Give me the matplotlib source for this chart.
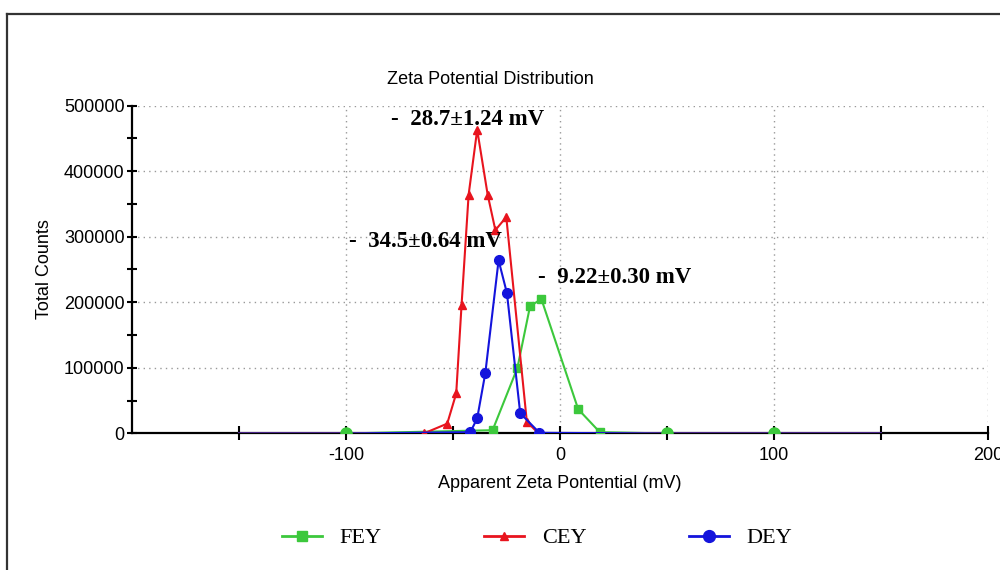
import matplotlib
matplotlib.use("Agg")
import matplotlib.pyplot as plt
from matplotlib.lines import Line2D
from matplotlib.ticker import MultipleLocator, FixedLocator

plt.rcParams["axes.unicode_minus"] = False

# ---- data ----
FEY_x = [-150, -100, -31.5, -19.9, -14.0, -8.7, 8.5, 18.6, 50, 100, 150]
FEY_y = [0, 0, 5000, 100000, 194000, 205000, 37000, 2000, 0, 0, 0]
CEY_x = [-150, -100, -63.7, -52.7, -48.5, -46.0, -42.7, -38.7, -33.8, -30.2, -25.1, -15.5, -10.0, 50, 100, 150]
CEY_y = [0, 0, 0, 15000, 61000, 196000, 364000, 463000, 364000, 310000, 330000, 18000, 0, 0, 0, 0]
DEY_x = [-150, -100, -41.9, -38.7, -34.9, -28.7, -24.8, -18.6, -9.6, 50, 100, 150]
DEY_y = [0, 0, 2000, 23000, 92000, 264000, 214000, 31000, 1000, 0, 0, 0]

series_names = ["FEY", "CEY", "DEY"]
annotations = ["-  28.7\u00b11.24 mV", "-  34.5\u00b10.64 mV", "-  9.22\u00b10.30 mV"]
annot_x = [-79, -98.5, -10.5]
annot_y = [478000, 292000, 238000]
xtick_major = [-100, 0, 100, 200]
xtick_minor = [-150, -50, 50, 150]

GREEN = "#3cc83c"
RED = "#e8141e"
BLUE = "#1414dc"

fig = plt.figure(figsize=(10, 5.7), dpi=100)
ax = fig.add_axes([0.132, 0.2395, 0.856, 0.5754])

# marked points (skip unmarked endpoints)
fey_marks = [i for i, x in enumerate(FEY_x) if x not in (-150, 150, -100, 50, 100)]
cey_marks = [i for i, x in enumerate(CEY_x) if x not in (-150, 150, -100, 50, 100, -10.0)]
dey_marks = [i for i, x in enumerate(DEY_x) if x not in (-150, 150, -100, 50, 100)]
base_marks = [i for i, x in enumerate(FEY_x) if x in (-100, 50, 100)]

l1, = ax.plot(FEY_x, FEY_y, color=GREEN, lw=1.5, marker="s", ms=5.8,
              markevery=fey_marks, zorder=3)
l2, = ax.plot(CEY_x, CEY_y, color=RED, lw=1.5, marker="^", ms=5.5,
              markevery=cey_marks, zorder=4)
l3, = ax.plot(DEY_x, DEY_y, color=BLUE, lw=1.5, marker="o", ms=7,
              markevery=dey_marks, zorder=5)
ax.plot([FEY_x[i] for i in base_marks], [FEY_y[i] for i in base_marks],
        linestyle="none", marker="o", ms=8, color=GREEN, zorder=6)

ax.set_xlim(-200, 200)
ax.set_ylim(0, 500000)

ax.xaxis.set_major_locator(FixedLocator(xtick_major))
ax.xaxis.set_minor_locator(FixedLocator(xtick_minor))
ax.yaxis.set_major_locator(MultipleLocator(100000))
ax.yaxis.set_minor_locator(MultipleLocator(50000))

for s in ["top", "right"]:
    ax.spines[s].set_visible(False)
for s in ["left", "bottom"]:
    ax.spines[s].set_linewidth(1.6)
    ax.spines[s].set_color("black")

ax.tick_params(axis="x", which="both", direction="inout", length=10, width=1.5, pad=5)
ax.tick_params(axis="y", which="both", direction="inout", length=6.5, width=1.5, pad=2)
ax.tick_params(labelsize=13)
for lab in ax.get_xticklabels() + ax.get_yticklabels():
    lab.set_fontfamily("Liberation Sans")

ax.grid(True, which="major", linestyle=(0, (1, 3)), color="#999999", lw=1.0)
ax.set_axisbelow(True)

ax.set_xlabel("Apparent Zeta Pontential (mV)", fontsize=13, family="Liberation Sans", labelpad=8)
ax.set_ylabel("Total Counts", fontsize=13, family="Liberation Sans", labelpad=8)
fig.text(0.49, 1 - 79 / 570, "Zeta Potential Distribution", fontsize=13,
         family="Liberation Sans", ha="center", va="center")

for txt, x, y in zip(annotations, annot_x, annot_y):
    ax.text(x, y, txt, fontsize=16.5, fontweight="bold", family="Liberation Serif",
            ha="left", va="center", zorder=7)

leg = fig.legend([l1, l2, l3], series_names, loc="center left",
                 bbox_to_anchor=(0.262, 1 - 538 / 570), ncol=3, frameon=False,
                 prop={"family": "Liberation Serif", "size": 16}, numpoints=1,
                 handlelength=1.8, handletextpad=0.8, columnspacing=4.6)
for h, ms in zip(leg.legend_handles, [7, 6, 8.5]):
    h.set_markevery([1])
    h.set_markersize(ms)
    h.set_linewidth(2)

# figure frame (extends beyond the right and bottom edges)
fig.add_artist(Line2D([0.007, 0.007], [0, 1 - 14 / 570], color="#333333", lw=1.6,
                      transform=fig.transFigure))
fig.add_artist(Line2D([0.007, 1.0], [1 - 14 / 570, 1 - 14 / 570], color="#333333", lw=1.6,
                      transform=fig.transFigure))

fig.savefig("out.png", dpi=100)
